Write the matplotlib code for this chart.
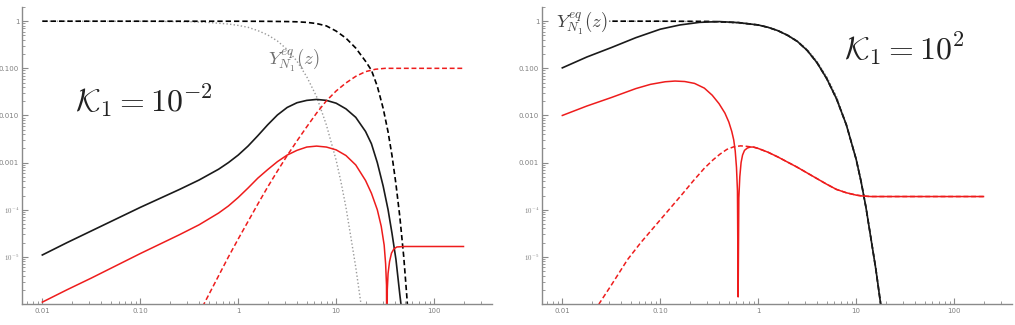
import numpy as np
import matplotlib
matplotlib.use("Agg")
import matplotlib.pyplot as plt
from matplotlib.ticker import FixedLocator, FixedFormatter, LogLocator, NullFormatter

plt.rcParams['mathtext.fontset'] = 'cm'
plt.rcParams['font.family'] = ['DejaVu Sans']

# ---------------- data (log10 z, log10 Y) ----------------
# Equilibrium abundance Y_N1^eq (gray dotted, both panels)
eq_lx = [-2.0, -1.0, -0.5, -0.3, -0.1, 0.0, 0.1, 0.2, 0.3, 0.4, 0.5, 0.6, 0.7, 0.8, 0.9, 1.0,
         1.05, 1.1, 1.15, 1.2, 1.25, 1.3]
eq_ly = [0.0, -0.002, -0.01, -0.027, -0.06, -0.09, -0.13, -0.2, -0.29, -0.42, -0.6, -0.85, -1.18, -1.6, -2.2, -2.95,
         -3.42, -3.95, -4.58, -5.22, -5.95, -6.8]

# Left panel, K1 = 1e-2
left_bd_lx = [-2.0, 0.0, 0.3, 0.5, 0.6, 0.7, 0.8, 0.9, 1.0, 1.1, 1.2, 1.3, 1.36, 1.42, 1.48, 1.53,
              1.57, 1.61, 1.65, 1.69, 1.72, 1.75]
left_bd_ly = [0.0, -0.001, -0.003, -0.008, -0.013, -0.025, -0.05, -0.1, -0.21, -0.36, -0.57, -0.85, -1.04, -1.38,
              -1.85, -2.35, -2.85, -3.45, -4.15, -5.0, -5.8, -6.7]

left_bs_lx = [-2.0, -1.75, -1.5, -1.25, -1.0, -0.8, -0.6, -0.4, -0.2, -0.1, 0.0, 0.1, 0.2, 0.3, 0.4, 0.5,
              0.6, 0.7, 0.8, 0.9, 1.0, 1.1, 1.2, 1.3, 1.36, 1.42, 1.48, 1.53, 1.57, 1.61, 1.65, 1.69]
left_bs_ly = [-4.96, -4.7, -4.45, -4.2, -3.95, -3.76, -3.57, -3.37, -3.14, -3.0, -2.84, -2.65, -2.43, -2.2, -1.99,
              -1.83, -1.73, -1.68, -1.66, -1.68, -1.74, -1.86, -2.04, -2.34, -2.6, -3.0, -3.5, -4.0, -4.5,
              -5.05, -5.8, -6.5]

left_rs_lx = [-2.0, -1.75, -1.5, -1.25, -1.0, -0.8, -0.6, -0.4, -0.2, -0.1, 0.0, 0.1, 0.2, 0.3, 0.4, 0.5,
              0.6, 0.7, 0.8, 0.9, 1.0, 1.1, 1.2, 1.3, 1.36, 1.42, 1.46, 1.49, 1.505, 1.514, 1.518, 1.522,
              1.53, 1.545, 1.565, 1.59, 1.62, 1.7, 2.3]
left_rs_ly = [-5.96, -5.7, -5.45, -5.19, -4.93, -4.73, -4.53, -4.32, -4.07, -3.92, -3.74, -3.54, -3.33, -3.15,
              -2.98, -2.84, -2.74, -2.67, -2.65, -2.67, -2.73, -2.85, -3.05, -3.38, -3.65, -4.0, -4.35, -4.75,
              -5.15, -5.6, -7.5, -5.7, -5.35, -5.1, -4.92, -4.83, -4.79, -4.78, -4.78]

left_rd_lx = [-0.4, -0.3, -0.2, -0.1, 0.0, 0.1, 0.2, 0.3, 0.4, 0.5, 0.6, 0.7, 0.8, 0.9, 1.0, 1.1, 1.2,
              1.3, 1.4, 1.5, 2.3]
left_rd_ly = [-6.2, -5.8, -5.4, -5.0, -4.62, -4.25, -3.88, -3.52, -3.18, -2.85, -2.54, -2.24, -1.95, -1.69, -1.48,
              -1.31, -1.17, -1.07, -1.02, -1.0, -1.0]

# Right panel, K1 = 1e2
right_bd_lx = [-2.0, -1.0, -0.5, -0.2, 0.0, 0.1, 0.2, 0.3, 0.4, 0.5, 0.6, 0.7, 0.8, 0.9, 1.0, 1.05, 1.1,
               1.15, 1.2, 1.25, 1.3]
right_bd_ly = [0.0, 0.0, -0.005, -0.03, -0.08, -0.13, -0.2, -0.3, -0.43, -0.62, -0.88, -1.22, -1.65, -2.2, -2.93,
               -3.4, -3.95, -4.6, -5.25, -6.0, -6.85]

right_bs_lx = [-2.0, -1.75, -1.5, -1.25, -1.0, -0.8, -0.6, -0.4, -0.2, 0.0, 0.1, 0.2, 0.3, 0.4, 0.5, 0.6,
               0.7, 0.8, 0.9, 1.0, 1.05, 1.1, 1.15, 1.2, 1.25, 1.3]
right_bs_ly = [-0.99, -0.76, -0.56, -0.35, -0.17, -0.08, -0.025, -0.008, -0.03, -0.08, -0.13, -0.2, -0.3, -0.43,
               -0.62, -0.88, -1.22, -1.65, -2.2, -2.93, -3.4, -3.95, -4.6, -5.25, -6.0, -6.85]

right_rs_lx = [-2.0, -1.75, -1.5, -1.25, -1.1, -0.95, -0.85, -0.75, -0.65, -0.55, -0.47, -0.4, -0.34, -0.3,
               -0.27, -0.25, -0.235, -0.222, -0.212, -0.205, -0.198, -0.188, -0.175, -0.16, -0.14, -0.11,
               -0.08, -0.05, 0.0, 0.1, 0.2, 0.3, 0.4, 0.5, 0.6, 0.7, 0.8, 0.9, 1.0, 1.07, 1.15, 2.3]
right_rs_ly = [-2.0, -1.8, -1.62, -1.43, -1.34, -1.285, -1.27, -1.28, -1.32, -1.42, -1.57, -1.75, -1.95, -2.14,
               -2.34, -2.52, -2.75, -3.1, -3.6, -5.85, -3.75, -3.3, -3.0, -2.84, -2.74, -2.69,
               -2.67, -2.67, -2.70, -2.78, -2.88, -2.99, -3.1, -3.22, -3.34, -3.46, -3.57, -3.64, -3.69, -3.71, -3.72, -3.72]

right_rd_lx = [-1.7, -1.62, -1.5, -1.335, -1.2, -1.06, -0.92, -0.78, -0.66, -0.55, -0.46, -0.39, -0.32,
               -0.25, -0.18, -0.12, -0.08, -0.05, 0.0, 0.1, 0.2, 0.3, 0.4, 0.5, 0.6, 0.7, 0.8, 0.9, 1.0,
               1.07, 1.15, 2.3]
right_rd_ly = [-6.3, -5.98, -5.6, -5.06, -4.7, -4.36, -4.02, -3.68, -3.38, -3.12, -2.94, -2.82, -2.72,
               -2.665, -2.645, -2.655, -2.665, -2.67, -2.70, -2.78, -2.88, -2.99, -3.1, -3.22, -3.34, -3.46,
               -3.57, -3.64, -3.69, -3.71, -3.72, -3.72]

x_ticks = [0.01, 0.1, 1, 10, 100]
x_labels = ['0.01', '0.10', '1', '10', '100']
y_ticks = [1, 0.1, 0.01, 0.001, 1e-4, 1e-5]
y_labels = ['1', '0.100', '0.010', '0.001', r'$10^{-4}$', r'$10^{-5}$']

# ---------------- figure ----------------
fig = plt.figure(figsize=(10.15, 3.25), dpi=100)
ax1 = fig.add_axes([22 / 1015, 21 / 325, 470 / 1015, 297 / 325])
ax2 = fig.add_axes([542 / 1015, 21 / 325, 470 / 1015, 297 / 325])

AX_COL = '#8a8a8a'
RED = '#ee1c1c'


def p(lx, ly):
    return 10 ** np.asarray(lx), 10 ** np.asarray(ly)


def style(ax):
    ax.set_xscale('log')
    ax.set_yscale('log')
    ax.set_xlim(0.0062, 390)
    ax.set_ylim(1e-6, 2.0)
    for s in ['top', 'right']:
        ax.spines[s].set_visible(False)
    for s in ['left', 'bottom']:
        ax.spines[s].set_color(AX_COL)
        ax.spines[s].set_linewidth(1.0)
    ax.xaxis.set_major_locator(FixedLocator(x_ticks))
    ax.xaxis.set_major_formatter(FixedFormatter(x_labels))
    ax.yaxis.set_major_locator(FixedLocator(y_ticks))
    ax.yaxis.set_major_formatter(FixedFormatter(y_labels))
    ax.xaxis.set_minor_locator(LogLocator(base=10, subs=np.arange(2, 10), numticks=20))
    ax.yaxis.set_minor_locator(LogLocator(base=10, subs=np.arange(2, 10), numticks=20))
    ax.xaxis.set_minor_formatter(NullFormatter())
    ax.yaxis.set_minor_formatter(NullFormatter())
    ax.tick_params(which='major', direction='in', length=4, width=0.8, color=AX_COL,
                   labelsize=5, labelcolor='#808080', pad=2)
    ax.tick_params(axis='x', which='major', pad=3)
    ax.tick_params(which='minor', direction='in', length=2, width=0.6, color=AX_COL)
    ax.patch.set_alpha(0)


for ax in (ax1, ax2):
    style(ax)

dash = (0, (3.2, 1.8))
dot = (0, (1, 1.6))

# left panel
ax1.plot(*p(eq_lx, eq_ly), color='#9a9a9a', lw=1.0, ls=dot)
ax1.plot(*p(left_bd_lx, left_bd_ly), color='black', lw=1.2, ls=dash)
ax1.plot(*p(left_bs_lx, left_bs_ly), color='#1a1a1a', lw=1.2)
ax1.plot(*p(left_rd_lx, left_rd_ly), color=RED, lw=1.1, ls=dash)
ax1.plot(*p(left_rs_lx, left_rs_ly), color=RED, lw=1.1)
ax1.text(0.0218, 0.021, r'$\mathcal{K}_1 = 10^{-2}$', fontsize=23, color='#222222', va='center')
ax1.text(2.03, 0.15, r'$Y^{eq}_{N_1}(z)$', fontsize=13.5, color='#707070', va='center')

# right panel
ax2.plot(*p(eq_lx, eq_ly), color='#9a9a9a', lw=1.0, ls=dot)
ax2.plot(*p(right_bd_lx, right_bd_ly), color='black', lw=1.2, ls=dash)
ax2.plot(*p(right_bs_lx, right_bs_ly), color='#1a1a1a', lw=1.2)
ax2.plot(*p(right_rd_lx, right_rd_ly), color=RED, lw=1.1, ls=dash)
ax2.plot(*p(right_rs_lx, right_rs_ly), color=RED, lw=1.1)
ax2.text(7.6, 0.26, r'$\mathcal{K}_1 = 10^{2}$', fontsize=23, color='#222222', va='center')
ax2.text(0.0087, 0.91, r'$Y^{eq}_{N_1}(z)$', fontsize=13.5, color='#404040', va='center',
         bbox=dict(facecolor='white', edgecolor='none', pad=0.5))

fig.savefig('out.png', dpi=100)
